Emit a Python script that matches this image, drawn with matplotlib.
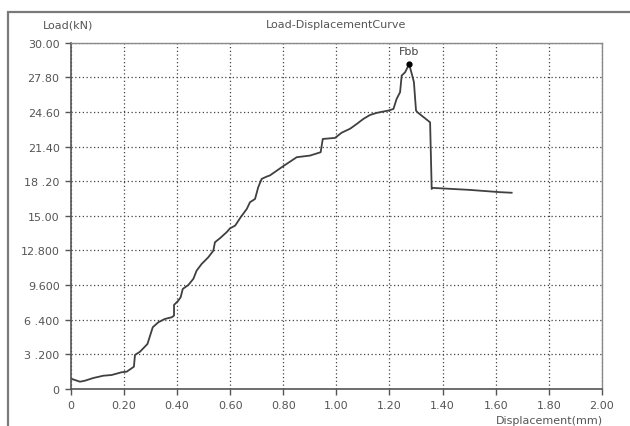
import numpy as np
import matplotlib
matplotlib.use('Agg')
import matplotlib.pyplot as plt
from matplotlib.patches import Rectangle

# displacement (mm) and load (kN)
disp = [0.004, 0.035, 0.054, 0.085, 0.123, 0.154, 0.192, 0.211, 0.238, 0.242,
        0.261, 0.289, 0.309, 0.330, 0.355, 0.380, 0.389, 0.389, 0.405, 0.414,
        0.422, 0.443, 0.462, 0.474, 0.493, 0.518, 0.537, 0.543, 0.562, 0.587,
        0.600, 0.619, 0.640, 0.663, 0.675, 0.694, 0.706, 0.719, 0.738, 0.750,
        0.800, 0.851, 0.901, 0.941, 0.949, 0.995, 1.020, 1.052, 1.077, 1.102,
        1.127, 1.152, 1.196, 1.215, 1.227, 1.240, 1.246, 1.259, 1.274, 1.284,
        1.292, 1.300, 1.305, 1.353, 1.359, 1.363, 1.500, 1.616, 1.660]
load = [0.87, 0.63, 0.72, 0.95, 1.15, 1.21, 1.45, 1.50, 1.93, 2.95,
        3.23, 3.90, 5.35, 5.78, 6.07, 6.21, 6.35, 7.28, 7.65, 7.95,
        8.67, 9.01, 9.55, 10.25, 10.83, 11.41, 11.98, 12.71, 13.06, 13.58,
        13.92, 14.15, 14.88, 15.60, 16.18, 16.46, 17.48, 18.20, 18.40, 18.50,
        19.30, 20.08, 20.22, 20.51, 21.66, 21.75, 22.20, 22.55, 22.96, 23.40,
        23.74, 23.92, 24.12, 24.26, 25.13, 25.71, 27.15, 27.44, 28.14, 27.30,
        26.60, 24.12, 23.98, 23.10, 17.33, 17.42, 17.25, 17.05, 17.00]

peak_x, peak_y = 1.274, 28.14

xticks = [0, 0.2, 0.4, 0.6, 0.8, 1.0, 1.2, 1.4, 1.6, 1.8, 2.0]
xlabels = ['0', '0.20', '0.40', '0.60', '0.80', '1.00', '1.20', '1.40',
           '1.60', '1.80', '2.00']
yticks = [0, 3, 6, 9, 12, 15, 18, 21, 24, 27, 30]
ylabels = ['0', '3 .200', '6 .400', '9.600', '12.800', '15.00', '18 .20',
           '21.40', '24.60', '27.80', '30.00']

plt.rcParams['font.family'] = ['DejaVu Sans']

fig = plt.figure(figsize=(6.3, 4.27), dpi=100)
ax = fig.add_axes([0.1122, 0.0867, 0.8433, 0.811])

# outer frame of the window
fig.patches.append(Rectangle((8 / 630, -0.1), 1.2, (1 - 13 / 427) + 0.1,
                             transform=fig.transFigure, fill=False,
                             edgecolor='#7a7a7a', linewidth=1.6))

ax.plot(disp, load, color='#404040', linewidth=1.3)
ax.plot([peak_x], [peak_y], 'o', color='black', markersize=3.5)
ax.text(peak_x, peak_y + 0.7, 'Fbb', ha='center', va='bottom',
        fontsize=8, color='#444444')

ax.set_xlim(0, 2.0)
ax.set_ylim(0, 30)
ax.set_xticks(xticks, xlabels)
ax.set_yticks(yticks, ylabels)
ax.tick_params(direction='out', length=4, width=1, colors='#555555',
               labelcolor='#555555', labelsize=8, pad=4)
ax.grid(True, linestyle=(0, (1, 2)), color='#444444', linewidth=0.9)

for side in ['top', 'right']:
    ax.spines[side].set_color('#8a8a8a')
    ax.spines[side].set_linewidth(1.0)
for side in ['left', 'bottom']:
    ax.spines[side].set_color('#555555')
    ax.spines[side].set_linewidth(1.2)

fig.text(68 / 630, 1 - 25 / 427, 'Load(kN)', ha='center', va='center',
         fontsize=8, color='#555555')
fig.text(336 / 630, 1 - 25 / 427, 'Load-DisplacementCurve', ha='center',
         va='center', fontsize=8, color='#555555')
fig.text(603 / 630, 1 - 421 / 427, 'Displacement(mm)', ha='right',
         va='center', fontsize=8, color='#555555')

fig.savefig('out.png', dpi=100)
